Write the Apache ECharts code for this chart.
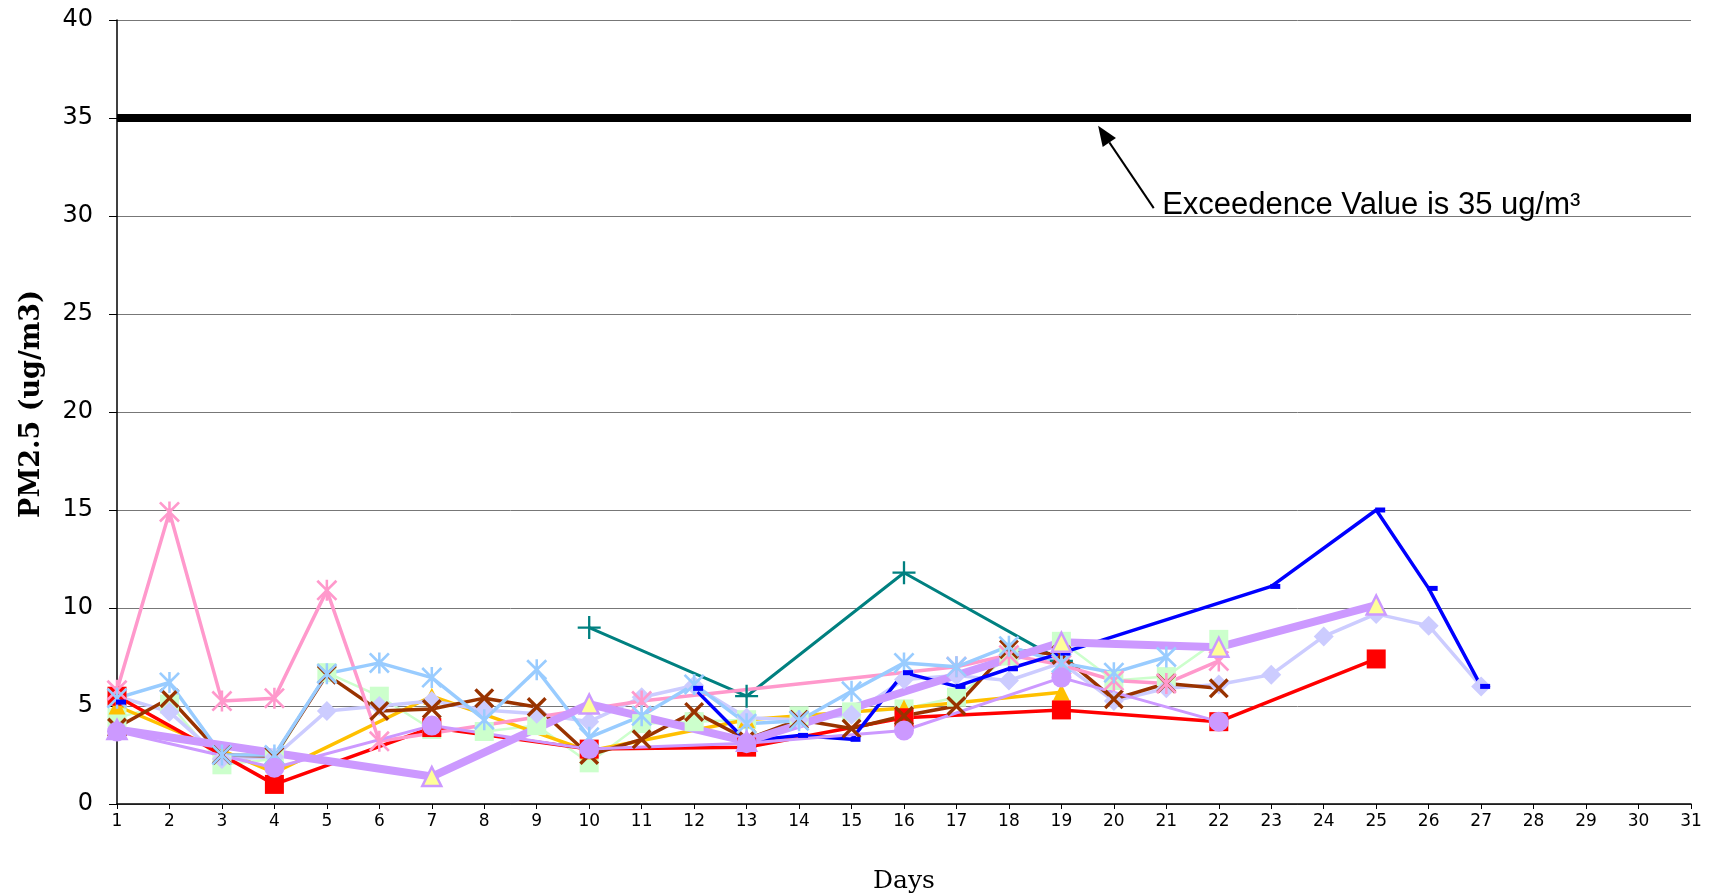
<!DOCTYPE html>
<html>
<head>
<meta charset="utf-8">
<title>PM2.5 daily</title>
<script src="https://cdn.jsdelivr.net/npm/echarts@6/dist/echarts.min.js"></script>
<style>
	html, body { margin: 0; padding: 0; background: #fff; }
	#pmChart { width: 1712px; height: 896px; }
</style>
</head>
<body>
<div id="pmChart"></div>
<script>
// days of the month (x axis)
var days = [1, 2, 3, 4, 5, 6, 7, 8, 9, 10, 11, 12, 13, 14, 15, 16, 17, 18, 19, 20, 21, 22, 23, 24, 25, 26, 27, 28, 29, 30, 31];
var yMin = 0, yMax = 40, yStep = 5;

// PM2.5 per monitor, ug/m3 (null = no sample that day)
var blueSite = [5.2, null, null, null, null, null, null, null, null, null, null, 5.9, 3.2, 3.5, 3.3, 6.7, 6.0, 6.9, 7.7, null, null, null, 11.1, null, 15.0, 11.0, 6.0];
var redSite = [5.5, null, null, 1.0, null, null, 3.9, null, null, 2.8, null, null, 2.9, null, null, 4.4, null, null, 4.8, null, null, 4.2, null, null, 7.4];
var goldSite = [5.0, null, null, 1.6, null, null, 5.5, null, null, 2.7, null, null, 4.3, null, null, 4.9, null, null, 5.7];
var greenSite = [4.4, 5.1, 2.0, 2.3, 6.7, 5.5, 3.8, 3.7, 4.0, 2.1, 4.1, 4.2, 4.3, 4.5, 4.7, 4.85, 5.45, 7.55, 8.3, 6.3, 6.5, 8.4];
var lavenderSite = [5.5, 4.7, 2.3, 2.4, 4.75, 5.0, 5.25, 4.8, 4.6, 4.2, 5.45, 6.05, 4.4, 4.3, 4.55, 6.35, 6.55, 6.3, 7.2, 5.25, 5.9, 6.1, 6.6, 8.55, 9.7, 9.1, 6.0];
var pinkSite = [5.8, 14.9, 5.25, 5.4, 10.9, 3.2, null, null, null, null, 5.25, null, null, null, null, null, 7.0, 7.6, 7.1, 6.3, 6.15, 7.3];
var skySite = [5.4, 6.2, 2.5, 2.5, 6.65, 7.2, 6.45, 4.3, 6.85, 3.4, 4.5, 6.1, 4.1, 4.25, 5.75, 7.2, 7.0, 8.05, 7.2, 6.7, 7.5];
var brownSite = [3.9, 5.4, 2.5, 2.45, 6.6, 4.75, 4.85, 5.4, 4.95, 2.5, 3.3, 4.7, 3.3, 4.3, 3.85, 4.5, 5.0, 7.9, 7.6, 5.35, 6.15, 5.9];
var tealSite = [null, null, null, null, null, null, null, null, null, 9.0, null, null, 5.5, null, null, 11.8, null, null, 7.3];
var violetSite = [3.7, null, null, 1.85, null, null, 4.0, null, null, 2.8, null, null, 3.1, null, null, 3.75, null, null, 6.45, null, null, 4.2];
var violetMean = [3.8, null, null, null, null, null, 1.4, null, null, 5.1, null, null, 3.2, null, null, null, null, null, 8.25, null, null, 8.0, null, null, 10.15];
var exceedence = [35, 35, 35, 35, 35, 35, 35, 35, 35, 35, 35, 35, 35, 35, 35, 35, 35, 35, 35, 35, 35, 35, 35, 35, 35, 35, 35, 35, 35, 35, 35];
var noteText = 'Exceedence Value is 35 ug/m³';

// marker shapes (filled outlines)
var xPath = 'path://M0,12 L12,0 L50,38 L88,0 L100,12 L62,50 L100,88 L88,100 L50,62 L12,100 L0,88 L38,50 Z';
var starPath = 'path://M0,9 L9,0 L50,41 L91,0 L100,9 L59,50 L100,91 L91,100 L50,59 L9,100 L0,91 L41,50 Z M44,0 L56,0 L56,100 L44,100 Z';
var plusPath = 'path://M45,0 L55,0 L55,45 L100,45 L100,55 L55,55 L55,100 L45,100 L45,55 L0,55 L0,45 L45,45 Z';

var PmChart = {
	init: function() {
		this.chart = echarts.init(document.getElementById('pmChart'));
		this.chart.setOption(this.option());
		this.drawNote();
	},
	//[day, value] pairs, empty days dropped so the line runs across them
	pairs: function(values, from, to) {
		var out = [];
		for(var i = 0; i < values.length; i++) {
			if(values[i] == null) continue;
			if(from != null && i < from) continue;
			if(to != null && i > to) continue;
			out.push([days[i], values[i]]);
		}
		return out;
	},
	line: function(name, data, color, width, symbol, size, extra) {
		var s = {
			name: name,
			type: 'line',
			data: data,
			symbol: symbol,
			symbolSize: size,
			showSymbol: symbol != 'none',
			animation: false,
			lineStyle: { color: color, width: width },
			itemStyle: { color: color, opacity: 1 },
			emphasis: { disabled: true }
		};
		for(var k in extra) s[k] = extra[k];
		return s;
	},
	option: function() {
		var self = this;
		return {
			animation: false,
			backgroundColor: '#fff',
			grid: { left: 117, right: 21, top: 20, bottom: 92, outerBoundsMode: 'none', containLabel: false },
			xAxis: {
				type: 'value',
				min: 1,
				max: 31,
				interval: 1,
				name: 'Days',
				nameLocation: 'middle',
				nameGap: 65,
				nameTextStyle: { fontFamily: 'DejaVu Serif', fontSize: 25, color: '#000' },
				axisLine: { lineStyle: { color: '#000', width: 1.5 } },
				axisTick: { length: 5, lineStyle: { color: '#000' } },
				axisLabel: { margin: 9, fontFamily: 'DejaVu Sans', fontSize: 17, color: '#000' },
				splitLine: { show: false }
			},
			yAxis: {
				type: 'value',
				min: yMin,
				max: yMax,
				interval: yStep,
				name: 'PM2.5 (ug/m3)',
				nameLocation: 'middle',
				nameRotate: 90,
				nameGap: 72,
				// left padding lifts the rotated title a little above centre
				nameTextStyle: { fontFamily: 'DejaVu Serif', fontWeight: 'bold', fontSize: 27, color: '#000', padding: [0, 0, 0, 16] },
				axisLine: { show: true, lineStyle: { color: '#000', width: 1.5 } },
				axisTick: { show: true, length: 8, lineStyle: { color: '#000' } },
				axisLabel: { margin: 24, fontFamily: 'DejaVu Sans', fontSize: 24, color: '#000' },
				splitLine: { lineStyle: { color: '#777', width: 1 } }
			},
			series: [
				self.line('Site 9', self.pairs(tealSite), '#008080', 3, plusPath, 23),
				self.line('Site 4', self.pairs(greenSite), '#CCFFCC', 2.5, 'rect', 19),
				self.line('Site 3', self.pairs(goldSite), '#FFC000', 3.5, 'triangle', 17),
				self.line('Site 5', self.pairs(lavenderSite), '#CCCCFF', 3.5, 'diamond', 20),
				self.line('Site 2', self.pairs(redSite), '#FF0000', 3.5, 'rect', 19),
				self.line('Site 8', self.pairs(brownSite), '#993300', 3.5, xPath, 20),
				self.line('Site 6', self.pairs(pinkSite), '#FF99CC', 3.5, starPath, 21),
				self.line('Site 7', self.pairs(skySite), '#99CCFF', 3.5, starPath, 21),
				// blue: day 1 stands alone, the rest is one connected run
				self.line('Site 1', self.pairs(blueSite, 0, 0), '#0000FF', 3.5, 'rect', [10, 5], { symbolOffset: [4, 0] }),
				self.line('Site 1 ', self.pairs(blueSite, 1), '#0000FF', 3.5, 'rect', [10, 5], { symbolOffset: [4, 0] }),
				self.line('Average', self.pairs(violetMean), '#CC99FF', 8, 'triangle', 19, {
					itemStyle: { color: '#FFFF99', borderColor: '#CC99FF', borderWidth: 2.5, opacity: 1 }
				}),
				self.line('Site 10', self.pairs(violetSite), '#CC99FF', 3, 'circle', 20),
				self.line('Exceedence', self.pairs(exceedence), '#000', 8, 'none', 0)
			]
		};
	},
	//arrow + note pointing at the 35 line
	drawNote: function() {
		var c = this.chart;
		var tip = c.convertToPixel({ gridIndex: 0 }, [19.7, 34.6]);
		var tail = c.convertToPixel({ gridIndex: 0 }, [20.76, 30.4]);
		var txt = c.convertToPixel({ gridIndex: 0 }, [20.92, 30.55]);
		var dx = tip[0] - tail[0], dy = tip[1] - tail[1];
		var len = Math.sqrt(dx * dx + dy * dy);
		var ux = dx / len, uy = dy / len;
		var hl = 20, hw = 8;
		var bx = tip[0] - ux * hl, by = tip[1] - uy * hl;
		c.setOption({
			graphic: [{
				type: 'line',
				shape: { x1: tail[0], y1: tail[1], x2: bx, y2: by },
				style: { stroke: '#000', lineWidth: 2 }
			}, {
				type: 'polygon',
				shape: { points: [tip, [bx - uy * hw, by + ux * hw], [bx + uy * hw, by - ux * hw]] },
				style: { fill: '#000' }
			}, {
				type: 'text',
				x: txt[0],
				y: txt[1],
				style: {
					text: noteText,
					fill: '#000',
					font: '31px "Liberation Sans", Arial',
					textVerticalAlign: 'middle',
					verticalAlign: 'middle'
				}
			}]
		});
	}
};
PmChart.init();
</script>
</body>
</html>
